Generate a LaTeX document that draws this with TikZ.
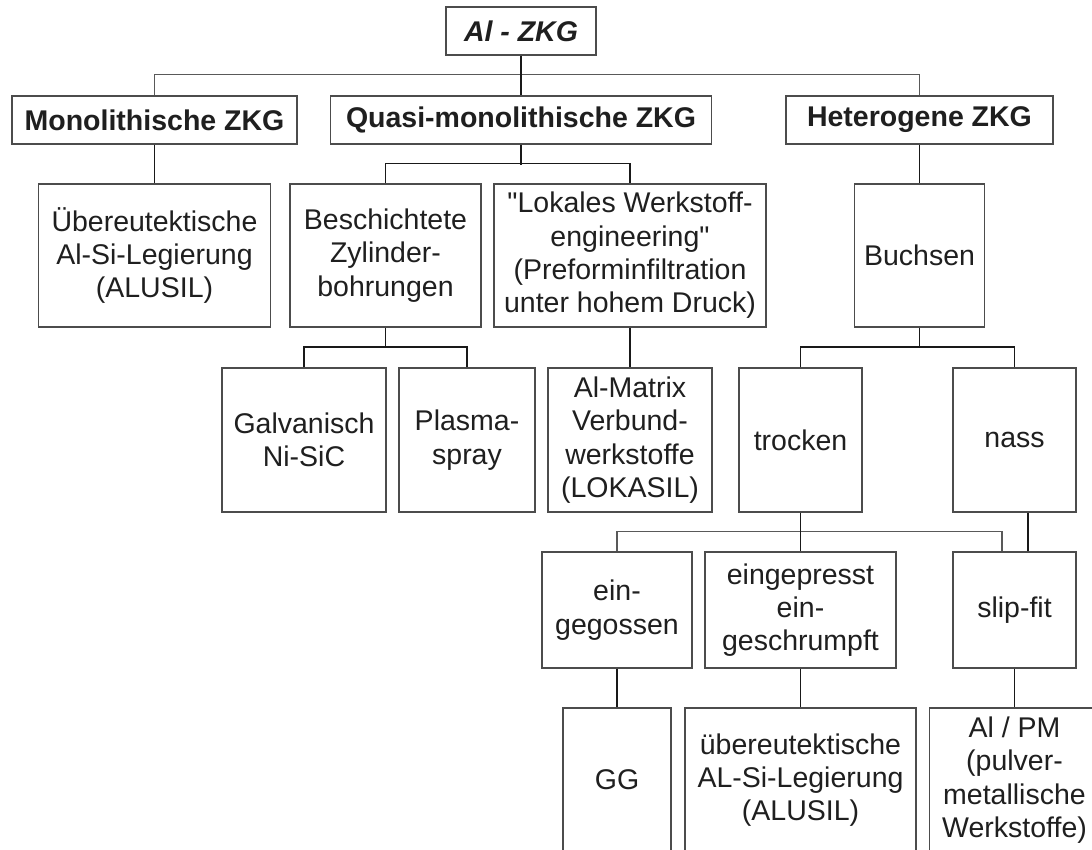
\documentclass[tikz,border=0pt]{standalone}
\usepackage{fontspec}
\newfontfamily\arialfont{Liberation Sans}
\begin{document}
\begin{tikzpicture}[x=1pt,y=1pt,
  box/.style={draw=black!70,line width=1.2pt,inner sep=0pt,align=center,text=black!88,font=\arialfont\fontsize{28.5}{33.3}\selectfont},
  head/.style={box,minimum height=48pt,font=\arialfont\fontsize{28.5}{33.3}\selectfont\bfseries},
  link/.style={line width=1.8pt,black!90},
  thinlink/.style={line width=1.1pt,black!65}]
\clip (0,0) rectangle (1092,-849);
\fill[white] (0,0) rectangle (1092,-849);
\node[head,minimum width=150pt,font=\arialfont\fontsize{28.5}{33.3}\selectfont\bfseries\itshape] (top) at (521,-31) {Al - ZKG};
\node[head,minimum width=285pt] (mono) at (154.5,-120) {Monolithische ZKG};
\node[head,minimum width=381pt] (quasi) at (521,-120) {Quasi-monolithische ZKG};
\node[head,minimum width=267pt] (hetero) at (919.5,-120) {Heterogene ZKG};
\node[box,minimum width=232pt,minimum height=143pt] (ueber) at (154.5,-255.5) {Übereutektische\\Al-Si-Legierung\\(ALUSIL)};
\node[box,minimum width=191pt,minimum height=143pt] (besch) at (385.5,-255.5) {Beschichtete\\Zylinder-\\bohrungen};
\node[box,minimum width=272pt,minimum height=143pt] (lokal) at (630,-255.5) {"Lokales Werkstoff-\\engineering"\\(Preforminfiltration\\unter hohem Druck)};
\node[box,minimum width=130pt,minimum height=143pt] (buchsen) at (919.5,-255.5) {Buchsen};
\node[box,minimum width=164pt,minimum height=144pt] (galv) at (304,-440) {Galvanisch\\Ni-SiC};
\node[box,minimum width=136pt,minimum height=144pt] (plasma) at (467,-440) {Plasma-\\spray};
\node[box,minimum width=164pt,minimum height=144pt] (matrix) at (630,-440) {Al-Matrix\\Verbund-\\werkstoffe\\(LOKASIL)};
\node[box,minimum width=123pt,minimum height=144pt] (trocken) at (800.5,-440) {trocken};
\node[box,minimum width=123pt,minimum height=144pt] (nass) at (1014.5,-440) {nass};
\node[box,minimum width=150pt,minimum height=116pt] (eingeg) at (617,-610) {ein-\\gegossen};
\node[box,minimum width=191pt,minimum height=116pt] (eingep) at (800.5,-610) {eingepresst\\ein-\\geschrumpft};
\node[box,minimum width=123pt,minimum height=116pt] (slip) at (1014.5,-610) {slip-fit};
\node[box,minimum width=108pt,minimum height=144pt] (gg) at (617,-780) {GG};
\node[box,minimum width=231pt,minimum height=144pt] (uebalu) at (800.5,-780) {übereutektische\\AL-Si-Legierung\\(ALUSIL)};
\node[box,minimum width=170pt,minimum height=144pt] (alpm) at (1014.5,-780) {Al / PM\\(pulver-\\metallische\\Werkstoffe)};
\draw[thinlink] (mono.north) -- ++(0,20.5) -| (hetero.north);
\draw[link] (top) -- (quasi);
\draw[link] (mono) -- (ueber);
\draw[link] (besch.north) -- ++(0,20) -| (lokal.north);
\draw[link] (quasi.south) -- ++(0,-20);
\draw[link] (hetero) -- (buchsen);
\draw[link] (galv.north) -- ++(0,20.5) -| (plasma.north);
\draw[link] (besch.south) -- ++(0,-20.5);
\draw[link] (lokal) -- (matrix);
\draw[link] (trocken.north) -- ++(0,20.5) -| (nass.north);
\draw[link] (buchsen.south) -- ++(0,-20.5);
\draw[thinlink] (eingeg.north) -- ++(0,20) -| ([xshift=-12.5pt]slip.north);
\draw[link] (trocken) -- (eingep);
\draw[link] ([xshift=13.5pt]nass.south) -- ([xshift=13.5pt]slip.north);
\draw[link] (eingeg) -- (gg);
\draw[link] (eingep) -- (uebalu);
\draw[link] (slip) -- (alpm);
\end{tikzpicture}
\end{document}
